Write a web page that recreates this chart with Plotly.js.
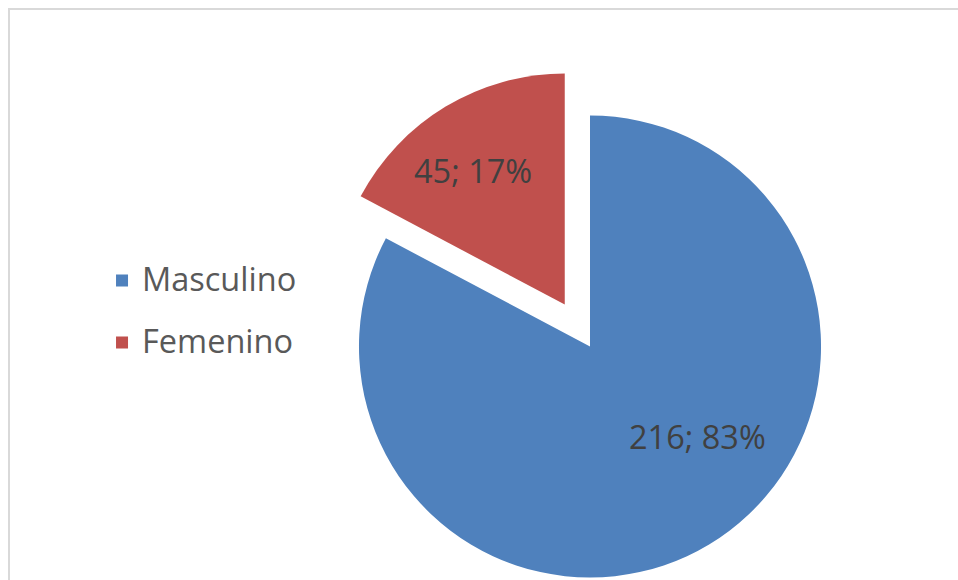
<!DOCTYPE html>
<html><head><meta charset="utf-8">
<script src="https://cdn.plot.ly/plotly-3.0.1.min.js"></script>
<style>html,body{margin:0;padding:0;overflow:hidden;background:#fff;width:958px;height:580px}#chart{width:958px;height:720px}</style>
</head><body><div id="chart"></div>
<script>
const categories = ['Masculino', 'Femenino'];
const counts = [216, 45];
const sliceColors = ['#4F81BD', '#C0504D'];
const pulls = [0, 0.212];

const W = 958, H = 720;
const total = counts.reduce((a, b) => a + b, 0);
const labelTexts = counts.map(v => v + '; ' + Math.round(100 * v / total) + '%');
const legendLabels = categories.map(c => '<span style="font-size:32.5px;baseline-shift:7px">' + c + '</span>');
// label anchor points (pixels) for each slice's data label
const labelPos = [[697.8, 437], [472.7, 170]];

const trace = {
  type: 'pie',
  labels: legendLabels,
  values: counts,
  sort: false,
  direction: 'clockwise',
  rotation: 0,
  pull: pulls,
  marker: {colors: sliceColors, line: {width: 0}},
  textinfo: 'none',
  hoverinfo: 'none',
  domain: {x: [0.32087, 0.91087], y: [0.12986, 0.90764]}
};

const layout = {
  width: W, height: H,
  margin: {l: 0, r: 0, t: 0, b: 0},
  paper_bgcolor: '#ffffff',
  showlegend: true,
  legend: {
    x: 0.1065, xanchor: 'left', y: 1 - 312 / H, yanchor: 'middle',
    font: {family: 'Open Sans, sans-serif', size: 45.4, color: '#595959'},
    bgcolor: 'rgba(0,0,0,0)', borderwidth: 0
  },
  annotations: labelTexts.map((t, i) => ({
    text: t, xref: 'paper', yref: 'paper',
    x: labelPos[i][0] / W, y: 1 - labelPos[i][1] / H,
    xanchor: 'center', yanchor: 'middle', showarrow: false,
    font: {family: 'Open Sans, sans-serif', size: 32.5, color: '#404040'}
  })),
  shapes: [
    {type: 'line', xref: 'paper', yref: 'paper', x0: 9 / W, x1: 9 / W, y0: 0, y1: 1 - 8 / H, line: {color: '#d9d9d9', width: 2}},
    {type: 'line', xref: 'paper', yref: 'paper', x0: 8 / W, x1: 1, y0: 1 - 9 / H, y1: 1 - 9 / H, line: {color: '#d9d9d9', width: 2}}
  ]
};

Plotly.newPlot('chart', [trace], layout, {displayModeBar: false, staticPlot: true});
</script></body></html>
